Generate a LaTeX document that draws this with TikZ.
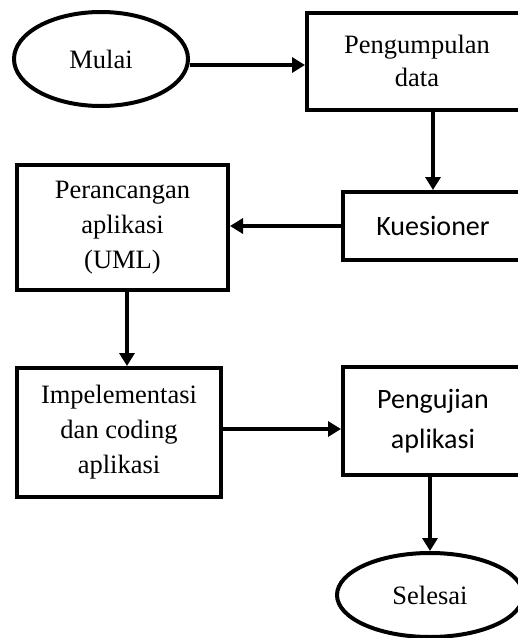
\documentclass[tikz,border=0pt]{standalone}
\usepackage{fontspec}
\setmainfont{Liberation Serif}
\newfontfamily\calfont{Carlito}
\usetikzlibrary{arrows.meta,shapes.geometric}
\begin{document}
\begin{tikzpicture}[x=1pt,y=-1pt,
  line width=4pt,
  serif/.style={font=\fontsize{26.5}{35}\selectfont},
  sans/.style={font=\calfont\fontsize{28}{40}\selectfont},
  box/.style={draw, rectangle, align=center, inner sep=0pt},
  oval/.style={draw, ellipse, inner sep=0pt},
  arr/.style={-{Triangle[length=13pt,width=15pt]}, line width=4pt}]
\useasboundingbox (0,0) rectangle (518,638);
\node[oval, serif, minimum width=174pt, minimum height=94pt] (m) at (101,59) {Mulai};
\node[box, font=\fontsize{26.5}{33}\selectfont, minimum width=220pt, minimum height=97pt] (p) at (417,61) {Pengumpulan\\data};
\node[box, sans, minimum width=180pt, minimum height=68pt] (k) at (433,226) {Kuesioner};
\node[box, serif, minimum width=211pt, minimum height=125pt] (r) at (122.5,227.5) {Perancangan\\aplikasi\\(UML)};
\node[box, serif, minimum width=204pt, minimum height=129pt] (i) at (119,432.5) {Impelementasi\\dan coding\\aplikasi};
\node[box, sans, minimum width=180pt, minimum height=108pt] (g) at (433,421) {Pengujian\\aplikasi};
\node[oval, serif, minimum width=186pt, minimum height=84pt] (s) at (430,595) {Selesai};
\draw[arr] ([yshift=-6pt]m.east) -- ([yshift=-6pt]m.east -| p.west);
\draw[arr] (k.north |- p.south) -- (k.north);
\draw[arr] (k.west) -- (k.west -| r.east);
\draw[arr] ([xshift=4.5pt]r.south) -- ([xshift=4.5pt]r.south |- i.north);
\draw[arr] ([yshift=3.5pt]i.east) -- ([yshift=3.5pt]i.east -| g.west);
\draw[arr] (s.north |- g.south) -- (s.north);
\end{tikzpicture}
\end{document}
